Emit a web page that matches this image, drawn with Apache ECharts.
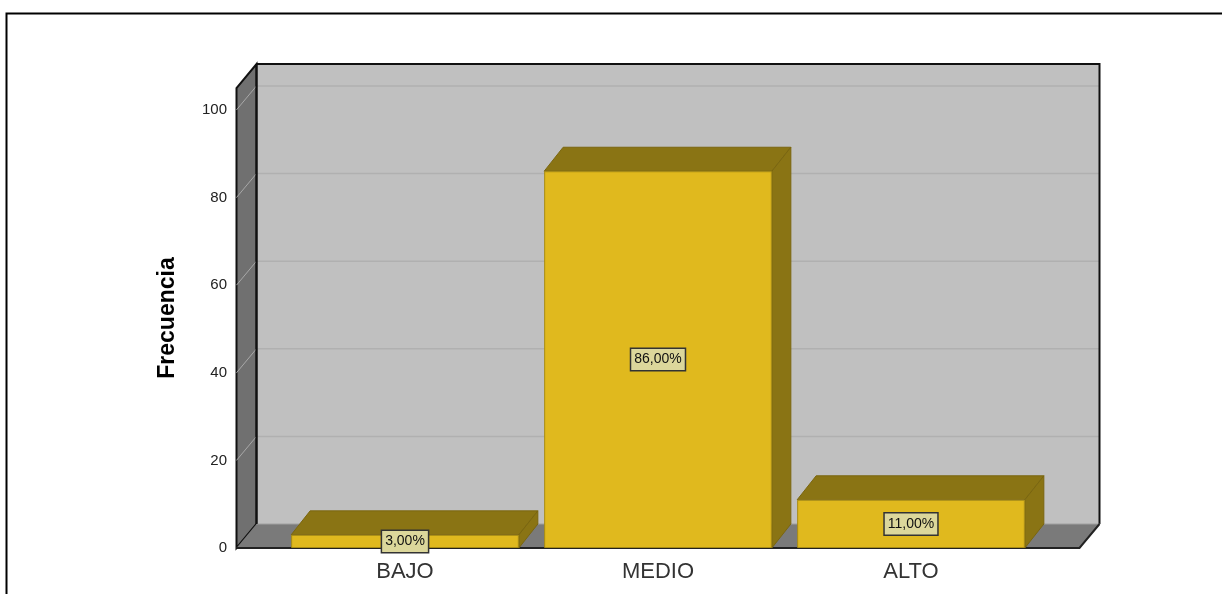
<!DOCTYPE html>
<html>
<head>
<meta charset="utf-8">
<script src="https://cdn.jsdelivr.net/npm/echarts@6/dist/echarts.min.js"></script>
<style>
html,body{margin:0;padding:0;background:#fff;}
#c{width:1222px;height:594px;}
</style>
</head>
<body>
<div id="c"></div>
<script>
var categories = ['BAJO', 'MEDIO', 'ALTO'];
var frequencies = [3, 86, 11];
var percentLabels = ['3,00%', '86,00%', '11,00%'];
var yTicks = [0, 20, 40, 60, 80, 100];
var yMax = 105;
var yName = 'Frecuencia';

var DX = 20, DY = -24, EXT = 42;

var chart = echarts.init(document.getElementById('c'));

function wallsRender(params, api) {
  var cs = params.coordSys;
  var xL = cs.x - EXT, xR = cs.x + cs.width + EXT;
  var yB = api.coord([categories[0], 0])[1];
  var yT = api.coord([categories[0], yMax])[1];
  var children = [];
  children.push({type: 'rect', shape: {x: xL + DX, y: yT + DY, width: xR - xL, height: yB - yT},
    style: {fill: '#c0c0c0', stroke: null}});
  yTicks.forEach(function (v) {
    if (v === 0) return;
    var y = api.coord([categories[0], v])[1];
    children.push({type: 'line', shape: {x1: xL + DX, y1: y + DY, x2: xR + DX, y2: y + DY},
      style: {stroke: '#b0b0b0', lineWidth: 1.5}});
  });
  children.push({type: 'polyline', shape: {points: [[xL + DX, yT + DY], [xR + DX, yT + DY], [xR + DX, yB + DY]]},
    style: {stroke: '#111', lineWidth: 2, fill: null}});
  children.push({type: 'polygon', shape: {points: [[xL, yB], [xL, yT], [xL + DX, yT + DY], [xL + DX, yB + DY]]},
    style: {fill: '#707070', stroke: '#111', lineWidth: 2}});
  yTicks.forEach(function (v) {
    if (v === 0) return;
    var y = api.coord([categories[0], v])[1];
    children.push({type: 'line', shape: {x1: xL, y1: y, x2: xL + DX, y2: y + DY},
      style: {stroke: '#a8a8a8', lineWidth: 1}});
  });
  children.push({type: 'polygon', shape: {points: [[xL, yB], [xR, yB], [xR + DX, yB + DY], [xL + DX, yB + DY]]},
    style: {fill: '#7a7a7a', stroke: null}});
  children.push({type: 'line', shape: {x1: xL + DX, y1: yB + DY, x2: xR + DX, y2: yB + DY},
    style: {stroke: '#a0a0a0', lineWidth: 1}});
  children.push({type: 'polyline', shape: {points: [[xL, yB], [xR, yB], [xR + DX, yB + DY]]},
    style: {stroke: '#222', lineWidth: 2, fill: null}});
  children.push({type: 'line', shape: {x1: xL + DX, y1: yB + DY, x2: xL + DX, y2: yT + DY},
    style: {stroke: '#111', lineWidth: 2}});
  return {type: 'group', children: children};
}

function barSidesRender(params, api) {
  var idx = api.value(0);
  var val = api.value(1);
  var base = api.coord([idx, 0]);
  var top = api.coord([idx, val]);
  var w = api.size([1, 0])[0] * 0.9;
  var x0 = base[0] - w / 2, x1 = base[0] + w / 2;
  var yb = base[1], yt = top[1];
  var dx = DX * 0.95;
  return {type: 'group', children: [
    {type: 'polygon', shape: {points: [[x0, yt], [x1, yt], [x1 + dx, yt + DY], [x0 + dx, yt + DY]]},
      style: {fill: '#8a7414', stroke: '#7a6610', lineWidth: 1}},
    {type: 'polygon', shape: {points: [[x1, yb], [x1, yt], [x1 + dx, yt + DY], [x1 + dx, yb + DY]]},
      style: {fill: '#8a7414', stroke: '#7a6610', lineWidth: 1}}
  ]};
}

var option = {
  animation: false,
  backgroundColor: '#fff',
  graphic: [{type: 'rect', z: -10, shape: {x: 6.5, y: 13.5, width: 1400, height: 800},
    style: {fill: null, stroke: '#000', lineWidth: 2}}],
  grid: {left: 278.5, right: 184.5, top: 88, bottom: 46},
  xAxis: {
    type: 'category', data: categories, boundaryGap: true,
    axisLine: {show: false}, axisTick: {show: false},
    axisLabel: {color: '#333', fontSize: 22, fontFamily: 'Arial, Liberation Sans', margin: 13}
  },
  yAxis: {
    type: 'value', min: 0, max: yMax, interval: 20, offset: 41.5,
    axisLine: {show: false}, axisTick: {show: false}, splitLine: {show: false},
    axisLabel: {color: '#222', fontSize: 15, fontFamily: 'Arial, Liberation Sans', margin: 10,
      formatter: function (v) { return yTicks.indexOf(v) >= 0 ? String(v) : ''; }},
    name: yName, nameLocation: 'middle', nameGap: 58,
    nameTextStyle: {color: '#000', fontSize: 23, fontWeight: 'bold', fontFamily: 'Arial, Liberation Sans'}
  },
  series: [
    {type: 'custom', z: 1, renderItem: wallsRender, data: [[0, 0]], silent: true},
    {type: 'custom', z: 2, renderItem: barSidesRender,
      data: frequencies.map(function (v, i) { return [i, v]; }), silent: true},
    {type: 'bar', z: 3, data: frequencies, barWidth: '90%',
      itemStyle: {color: '#e0b91e', borderColor: '#a88c14', borderWidth: 1},
      label: {show: true, position: 'inside',
        formatter: function (p) { return percentLabels[p.dataIndex]; },
        color: '#111', fontSize: 14, fontFamily: 'Arial, Liberation Sans',
        backgroundColor: '#dcd79b', borderColor: '#333', borderWidth: 1.5, padding: [4, 3, 3, 3]}
    }
  ]
};
chart.setOption(option);
</script>
</body>
</html>
